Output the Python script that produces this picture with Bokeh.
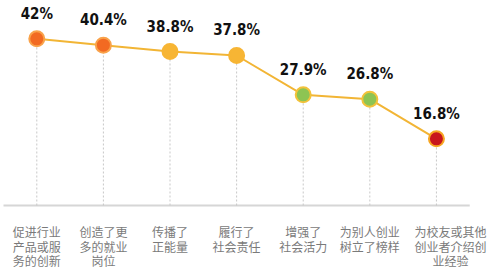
from bokeh.plotting import figure
from bokeh.models import ColumnDataSource, Range1d
from bokeh.core.properties import value
from bokeh.embed import file_html
from bokeh.resources import INLINE

categories = [
    "促进行业\n产品或服\n务的创新",
    "创造了更\n多的就业\n岗位",
    "传播了\n正能量",
    "履行了\n社会责任",
    "增强了\n社会活力",
    "为别人创业\n树立了榜样",
    "为校友或其他\n创业者介绍创\n业经验",
]
values = [42, 40.4, 38.8, 37.8, 27.9, 26.8, 16.8]
labels = ["42%", "40.4%", "38.8%", "37.8%", "27.9%", "26.8%", "16.8%"]

fill_colors = ["#F26A22", "#F26A22", "#F7B534", "#F7B534", "#8DC453", "#8DC453", "#C8161D"]
line_colors = ["#F9A24A", "#F9A24A", "#F7B534", "#F7B534", "#F3C23A", "#F3C23A", "#F6A623"]
cat_x_offsets = [0, 0, 0, 0, 0, 0, 14]

n = len(values)
xs = list(range(n))
zeros = [0] * n
src = ColumnDataSource(dict(x=xs, y=values, y0=zeros, lab=labels, cat=categories,
                            fc=fill_colors, lc=line_colors, xo=cat_x_offsets))

p = figure(width=500, height=269, output_backend="svg", toolbar_location=None,
           x_range=Range1d(-0.545, 6.962), y_range=Range1d(-16.13, 51.66),
           min_border=0)
p.outline_line_color = None
p.grid.visible = False
p.axis.visible = False

# baseline (category axis line) spanning the category slots
p.segment(x0=[-0.5], y0=[0], x1=[n - 0.5], y1=[0], line_color="#D6D6D6",
          line_width=2)

p.segment(x0="x", y0="y0", x1="x", y1="y", source=src, line_color="#C8C8C8",
          line_dash="2 2", line_width=1)
p.line(x="x", y="y", source=src, line_color="#F2B535", line_width=2)
p.scatter(x="x", y="y", source=src, size=15, fill_color="fc", line_color="lc",
          line_width=2)
p.text(x="x", y="y", text="lab", source=src, y_offset=-25,
       text_align="center", text_baseline="middle",
       text_font=value("DejaVu Sans Condensed"),
       text_font_style="bold", text_font_size="15px", text_color="#111111")

p.text(x="x", y="y0", text="cat", source=src, x_offset="xo", y_offset=18,
       text_align="center", text_baseline="top",
       text_font=value("Noto Sans CJK SC"), text_font_size="12px",
       text_color="#7A7A7A", text_line_height=0.85)

open("out.html", "w").write(file_html(p, INLINE))
